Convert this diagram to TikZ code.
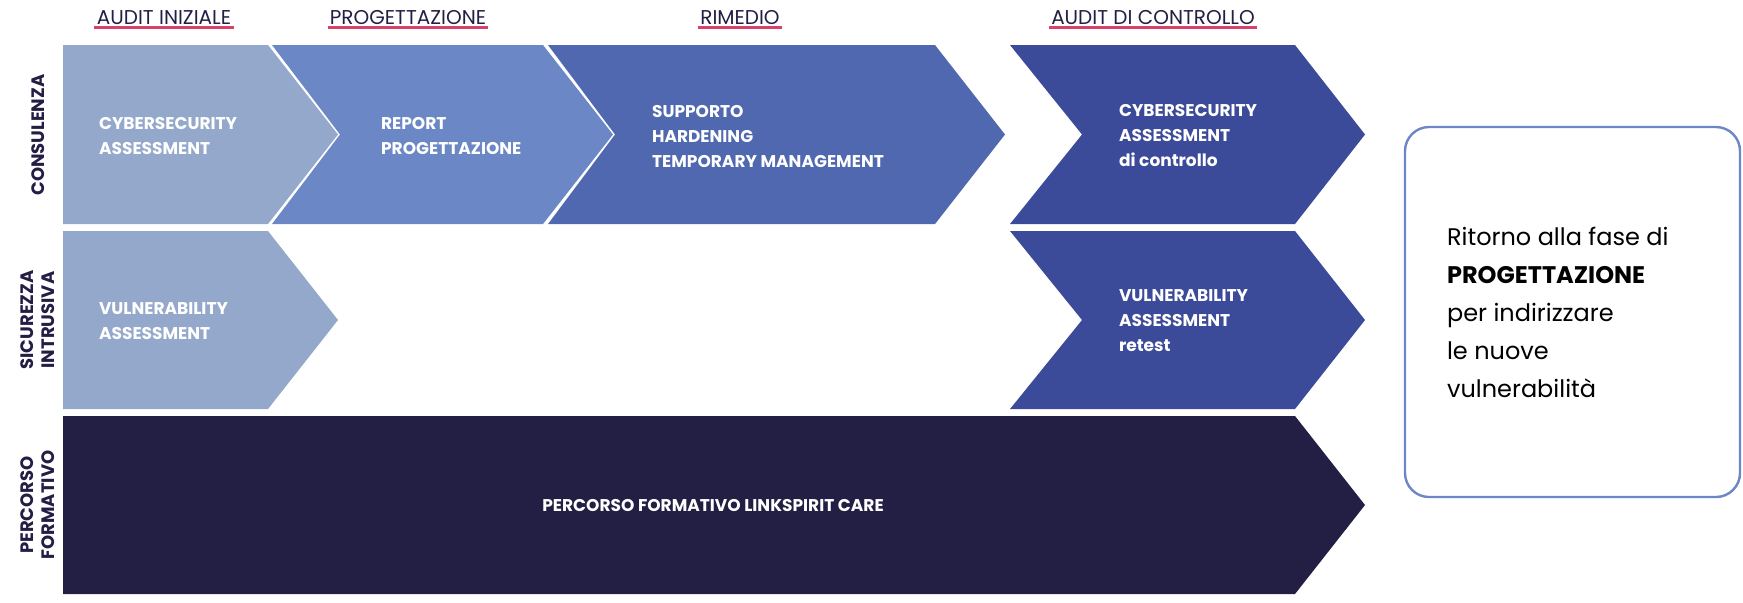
\documentclass[tikz,border=0pt]{standalone}
\usepackage{fontspec}
\setmainfont{Poppins}
\definecolor{paleblue}{HTML}{93A8CB}
\definecolor{midblue}{HTML}{6B87C5}
\definecolor{deepblue}{HTML}{5068B0}
\definecolor{royalblue}{HTML}{3C4A9A}
\definecolor{nightblue}{HTML}{231E44}
\definecolor{accent}{HTML}{D9416B}
% chevron: left x, notch depth, right x, top y, bottom y, colour
\newcommand{\chevron}[6]{%
  \fill[#6] (#1,#4) -- (#3,#4) -- ({#3+70},{(#4+#5)/2}) -- (#3,#5) -- (#1,#5)
    -- ({#1+#2},{(#4+#5)/2}) -- cycle;}
\begin{document}
\begin{tikzpicture}[x=0.5pt,y=-0.5pt,
    phase/.style={font=\fontsize{10}{12}\selectfont, text=nightblue, inner sep=1pt},
    item/.style={font=\fontsize{8.5}{12.5}\selectfont\bfseries, text=white,
                 align=left, anchor=west},
    lane/.style={font=\fontsize{9}{10.5}\selectfont\bfseries, text=nightblue,
                 align=center, rotate=90}]
  \useasboundingbox (0,0) rectangle (1743,602);
  % phases
  \foreach \x/\t/\n in {164/AUDIT INIZIALE/h1, 408/PROGETTAZIONE/h2,
                        740/RIMEDIO/h3, 1153/AUDIT DI CONTROLLO/h4}
    {\node[phase] (\n) at (\x,18) {\t};
     \draw[accent, line width=1.2pt] (\n.south west) -- (\n.south east);}
  % lanes
  \node[lane] (l1) at (38,135) {CONSULENZA};
  \node[lane] (l2) at (38,320) {SICUREZZA\\INTRUSIVA};
  \node[lane] (l3) at (38,505) {PERCORSO\\FORMATIVO};
  % chevrons
  \chevron{63}{0}{268}{45}{224}{paleblue}
  \chevron{272}{68}{543}{45}{224}{midblue}
  \chevron{548}{67}{935}{45}{224}{deepblue}
  \chevron{1010}{72}{1295}{45}{224}{royalblue}
  \chevron{63}{0}{268}{231}{409}{paleblue}
  \chevron{1010}{72}{1295}{231}{409}{royalblue}
  \chevron{63}{0}{1295}{416}{594}{nightblue}
  % texts
  \node[item] (a1) at (92,136) {CYBERSECURITY\\ASSESSMENT};
  \node[item] (a2) at (374,136) {REPORT\\PROGETTAZIONE};
  \node[item] (a3) at (645,136) {SUPPORTO\\HARDENING\\TEMPORARY MANAGEMENT};
  \node[item] (a4) at (1112,136) {CYBERSECURITY\\ASSESSMENT\\di controllo};
  \node[item] (b1) at (92,321) {VULNERABILITY\\ASSESSMENT};
  \node[item] (b4) at (1112,321) {VULNERABILITY\\ASSESSMENT\\retest};
  \node[item, anchor=center] (c1) at (713,505) {PERCORSO FORMATIVO LINKSPIRIT CARE};
  % return box
  \draw[midblue, line width=1.2pt, rounded corners=12pt] (1405,127) rectangle (1740,497);
  \node[font=\fontsize{12}{19}\selectfont, align=left, anchor=west, text=black]
    (ret) at (1440,312) {Ritorno alla fase di\\\textbf{PROGETTAZIONE}\\per indirizzare\\le nuove\\vulnerabilità};
\end{tikzpicture}
\end{document}
